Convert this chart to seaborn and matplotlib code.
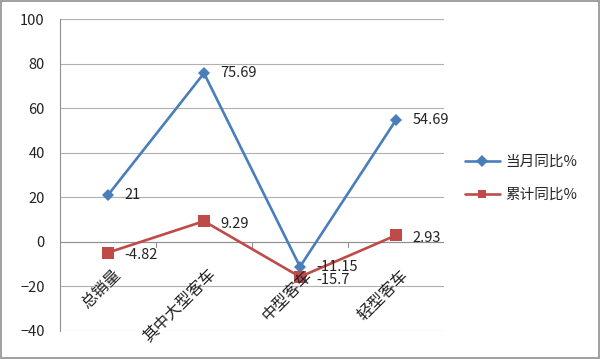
import matplotlib
matplotlib.use("Agg")
import matplotlib.pyplot as plt
import seaborn as sns
import pandas as pd

categories = ["总销量", "其中大型客车", "中型客车", "轻型客车"]
monthly_yoy = [21, 75.69, -11.15, 54.69]
cumulative_yoy = [-4.82, 9.29, -15.7, 2.93]
series_names = ["当月同比%", "累计同比%"]
yticks = [-40, -20, 0, 20, 40, 60, 80, 100]

BLUE = "#4A7EBB"
RED = "#BE4B48"

sns.set_style("white")
plt.rcParams["font.family"] = ["Noto Sans CJK SC", "DejaVu Sans"]

df = pd.DataFrame({
    "cat": categories * 2,
    "value": monthly_yoy + cumulative_yoy,
    "series": [series_names[0]] * 4 + [series_names[1]] * 4,
})

fig = plt.figure(figsize=(6, 3.59), dpi=100)
ax = fig.add_axes([0.1, 0.078, 0.64, 0.869])

sns.lineplot(
    data=df, x="cat", y="value", hue="series", style="series",
    hue_order=series_names, palette=[BLUE, RED],
    markers={series_names[0]: "D", series_names[1]: "s"},
    dashes=False, sort=False, linewidth=1.9, ax=ax,
    markeredgewidth=0,
)
for line, ms in zip(ax.lines, [6.5, 9]):
    line.set_markersize(ms)

ax.set_xlim(-0.5, len(categories) - 0.5)
ax.set_ylim(-40, 100)
ax.set_yticks(yticks)
ax.yaxis.grid(True, color="#b0b0b0", linewidth=0.8)
ax.set_axisbelow(True)
for s in ["top", "right", "bottom"]:
    ax.spines[s].set_visible(False)
ax.spines["left"].set_color("#909090")
ax.tick_params(axis="y", labelsize=10.5, colors="#222222", length=0, pad=11)
ax.set_xticks([])
ax.set_xlabel("")
ax.set_ylabel("")

# category axis crossing at zero
ax.axhline(0, color="#909090", linewidth=0.8, zorder=1)
for b in range(1, len(categories)):
    ax.plot([b - 0.5, b - 0.5], [0, -2.5], color="#909090", linewidth=0.8, zorder=1)

for i, c in enumerate(categories):
    ax.text(i + 0.04, -11, c, rotation=45, ha="right", va="top",
            fontsize=11.5, color="#222222", rotation_mode="anchor")

for i, v in enumerate(monthly_yoy):
    ax.annotate(f"{v:g}", (i, v), xytext=(12, 0), textcoords="offset points",
                ha="left", va="center", fontsize=10.5, color="#222222")
for i, v in enumerate(cumulative_yoy):
    ax.annotate(f"{v:g}", (i, v), xytext=(12, -2), textcoords="offset points",
                ha="left", va="center", fontsize=10.5, color="#222222")

leg = ax.legend(loc="center left", bbox_to_anchor=(1.02, 0.49), frameon=False,
                fontsize=10.5, handlelength=2.4, handletextpad=0.4, labelspacing=1.3)
leg.set_title(None)

fig.patches.append(plt.Rectangle((0.002, 0.003), 0.996, 0.994, transform=fig.transFigure,
                                 fill=False, edgecolor="#909090", linewidth=1.2))

fig.savefig("out.png", dpi=100)
